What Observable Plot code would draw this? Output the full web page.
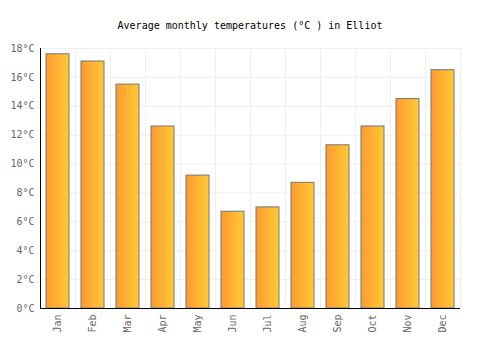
<!DOCTYPE html>
<html>
<head>
<meta charset="utf-8">
<script src="https://cdn.jsdelivr.net/npm/d3@7"></script>
<script src="https://cdn.jsdelivr.net/npm/@observablehq/plot@0.6"></script>
<style>
  body { margin: 0; background: #fff; }
  #wrap { position: relative; width: 500px; height: 350px; }
  #title { position: absolute; top: 20px; left: 0; width: 500px; text-align: center;
           font-family: "DejaVu Sans Mono", monospace; font-size: 10px; color: #000; }
</style>
</head>
<body>
<div id="wrap"><div id="title">Average monthly temperatures (°C ) in Elliot</div></div>
<script>
const months = ["Jan","Feb","Mar","Apr","May","Jun","Jul","Aug","Sep","Oct","Nov","Dec"];
const temps = [17.6, 17.1, 15.5, 12.6, 9.2, 6.7, 7.0, 8.7, 11.3, 12.6, 14.5, 16.5];
const yTicks = [0, 2, 4, 6, 8, 10, 12, 14, 16, 18];

const data = months.map((m, i) => ({month: m, temp: temps[i]}));

const chart = Plot.plot({
  width: 500,
  height: 350,
  marginTop: 48,
  marginBottom: 42,
  marginLeft: 40,
  marginRight: 40,
  style: {fontFamily: "DejaVu Sans Mono, monospace", fontSize: "10px", color: "#666", background: "#fff"},
  x: {domain: months, padding: 0, label: null, tickRotate: -90, tickSize: 0, tickPadding: 6},
  y: {domain: [0, 18], ticks: yTicks, tickFormat: d => d + "°C", label: null, tickSize: 0, tickPadding: 6},
  marks: [
    Plot.ruleY(yTicks, {stroke: "#eee", strokeWidth: 1}),
    Plot.ruleX(months, {x: d => d, dx: 17.5, stroke: "#eee", strokeWidth: 1}),
    Plot.barY(data, {x: "month", y: "temp", fill: "url(#barGrad)", stroke: "#777", strokeWidth: 1, insetLeft: 6, insetRight: 6}),
    Plot.ruleY([0], {stroke: "#000", strokeWidth: 1}),
    Plot.ruleX([months[0]], {x: d => d, dx: -17.5, stroke: "#000", strokeWidth: 1})
  ]
});

const ns = "http://www.w3.org/2000/svg";
const defs = document.createElementNS(ns, "defs");
const grad = document.createElementNS(ns, "linearGradient");
grad.setAttribute("id", "barGrad");
grad.setAttribute("x1", "0"); grad.setAttribute("y1", "0");
grad.setAttribute("x2", "1"); grad.setAttribute("y2", "0");
[["0%", "#ff9a30"], ["100%", "#ffca35"]].forEach(([o, c]) => {
  const s = document.createElementNS(ns, "stop");
  s.setAttribute("offset", o);
  s.setAttribute("stop-color", c);
  grad.appendChild(s);
});
defs.appendChild(grad);
chart.insertBefore(defs, chart.firstChild);

document.getElementById("wrap").appendChild(chart);
</script>
</body>
</html>
